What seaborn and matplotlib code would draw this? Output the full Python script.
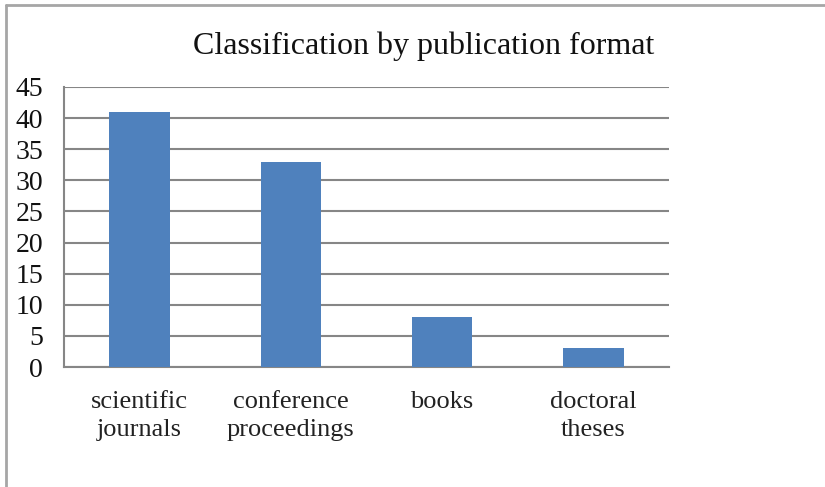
import pandas as pd
import numpy as np
import matplotlib
matplotlib.use('Agg')
import matplotlib.pyplot as plt
import seaborn as sns

# Data
categories = ['scientific\njournals', 'conference\nproceedings', 'books', 'doctoral\ntheses']
counts = [41, 33, 8, 3]
y_ticks = [0, 5, 10, 15, 20, 25, 30, 35, 40, 45]

df = pd.DataFrame({'format': categories, 'count': counts})

sns.set_style('white')
plt.rcParams['font.family'] = ['Liberation Serif', 'DejaVu Serif']

grey = '#868686'

fig = plt.figure(figsize=(8.25, 4.87), dpi=100)
ax = fig.add_axes([0.0776, 0.2464, 0.7333, 0.575])

sns.barplot(data=df, x='format', y='count', color='#4F81BD', width=0.4,
            saturation=1, linewidth=0, ax=ax, zorder=3)

ax.set_ylim(0, 45)
ax.set_xlim(-0.5, len(categories) - 0.5)
ax.set_yticks(y_ticks)
ax.yaxis.grid(True, color=grey, linewidth=1.5, zorder=0)
ax.set_axisbelow(True)

# tick marks between categories, as in Excel
ax.set_xticks(np.arange(-0.5, len(categories)), minor=True)
ax.tick_params(axis='x', which='major', length=0, pad=17, labelsize=19, colors='#222222')
ax.tick_params(axis='x', which='minor', length=6, width=1.5, color=grey, direction='out')
ax.tick_params(axis='y', length=5, width=1.5, color=grey, direction='out', pad=10,
               labelsize=20, labelcolor='#111111')
for lbl in ax.get_xticklabels():
    lbl.set_linespacing(1.35)

for side in ['top', 'right']:
    ax.spines[side].set_visible(False)
for side in ['left', 'bottom']:
    ax.spines[side].set_color(grey)
    ax.spines[side].set_linewidth(1.5)

ax.set_xlabel('')
ax.set_ylabel('')

fig.text(0.514, 0.905, 'Classification by publication format', ha='center', va='center',
         fontsize=23, color='#111111')

# chart frame (top and left edges visible in the original crop)
fig.add_artist(plt.Line2D([0.0073, 1.0], [0.99, 0.99], color='#a6a6a6', linewidth=2,
                          transform=fig.transFigure))
fig.add_artist(plt.Line2D([0.0073, 0.0073], [0.0, 0.99], color='#a6a6a6', linewidth=2,
                          transform=fig.transFigure))

fig.savefig('out.png', dpi=100)
